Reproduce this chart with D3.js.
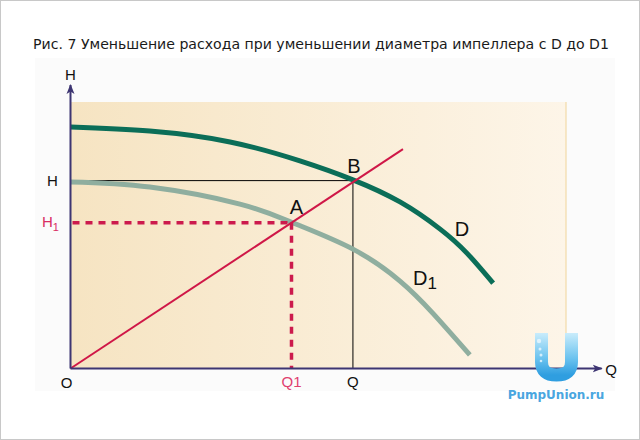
<!DOCTYPE html>
<html>
<head>
<meta charset="utf-8">
<script src="https://cdn.jsdelivr.net/npm/d3@7"></script>
<style>
  html, body { margin: 0; padding: 0; background: #fff; }
  svg { display: block; }
</style>
</head>
<body>
<div id="chart"></div>
<script>
// pump curve for impeller diameter D
var qD  = [0, 16, 32.2, 46.3, 57, 66.5, 74.6, 80, 85.3];
var hD  = [90.6, 89.1, 85.0, 77.9, 70.8, 62.5, 52.3, 43.3, 32.0];
// pump curve for reduced diameter D1
var qD1 = [0, 16, 34.2, 44.7, 57, 66.5, 73.1, 80.6];
var hD1 = [70.0, 68.1, 61.7, 54.8, 44.8, 32.8, 20.8, 5.1];
// system curve
var qSys = [0, 67.1];
var hSys = [0, 82.3];
// operating points
var pointNames = ['A', 'B'];
var pointQ = [44.6, 57];
var pointH = [54.7, 70.5];

var W = 640, H = 440;
var svg = d3.select('#chart').append('svg').attr('width', W).attr('height', H);

var x = d3.scaleLinear().domain([0, 100]).range([70.5, 566]),
    y = d3.scaleLinear().domain([0, 100]).range([368.5, 102]);

var defs = svg.append('defs');
var bg = defs.append('linearGradient').attr('id', 'bg').attr('x1', 0).attr('x2', 1).attr('y1', 0).attr('y2', 0);
bg.append('stop').attr('offset', 0).attr('stop-color', '#f6e4c2');
bg.append('stop').attr('offset', 1).attr('stop-color', '#fdf5e8');
var ug = defs.append('linearGradient').attr('id', 'ug').attr('x1', 0).attr('x2', 0).attr('y1', 0).attr('y2', 1);
ug.append('stop').attr('offset', 0).attr('stop-color', '#c9ecfb');
ug.append('stop').attr('offset', 0.6).attr('stop-color', '#6cc3ef');
ug.append('stop').attr('offset', 1).attr('stop-color', '#2f9ee0');
['arrowY', 'arrowX'].forEach(function(id){
  defs.append('marker').attr('id', id)
    .attr('viewBox', '0 0 10 10').attr('refX', 9).attr('refY', 5)
    .attr('markerWidth', 5).attr('markerHeight', 5).attr('orient', 'auto')
    .attr('markerUnits', 'strokeWidth')
    .append('path').attr('d', 'M0,1 L10,5 L0,9 L2.5,5 Z').attr('fill', '#3d3572');
});

// frame
svg.append('rect').attr('x', 0.5).attr('y', 0.5).attr('width', W - 1).attr('height', H - 1)
  .attr('fill', '#fff').attr('stroke', '#c8c8c8');
svg.append('rect').attr('x', 35).attr('y', 58).attr('width', 580).attr('height', 333)
  .attr('fill', '#fbfbfb');

svg.append('text').attr('x', 321).attr('y', 49).attr('text-anchor', 'middle')
  .attr('font-family', 'DejaVu Sans').attr('font-size', 14.1).attr('fill', '#1a1a1a')
  .text('Рис. 7 Уменьшение расхода при уменьшении диаметра импеллера с D до D1');

// plot background
svg.append('rect').attr('x', x(0)).attr('y', y(100)).attr('width', x(100) - x(0)).attr('height', y(0) - y(100))
  .attr('fill', 'url(#bg)');
svg.append('line').attr('x1', x(100)).attr('x2', x(100)).attr('y1', y(100)).attr('y2', y(0))
  .attr('stroke', '#f0d49a').attr('stroke-width', 1);

var line = d3.line().x(function(d){ return x(d[0]); }).y(function(d){ return y(d[1]); });
var curve = d3.line().x(function(d){ return x(d[0]); }).y(function(d){ return y(d[1]); })
  .curve(d3.curveNatural);

// guide lines for B
var qB = pointQ[1], hB = pointH[1], qA = pointQ[0], hA = pointH[0];
svg.append('path').attr('d', line([[0, hB], [qB, hB]])).attr('stroke', '#000').attr('stroke-width', 1).attr('fill', 'none');
svg.append('path').attr('d', line([[qB, hB], [qB, 0]])).attr('stroke', '#000').attr('stroke-width', 1).attr('fill', 'none');

// curves
svg.append('path').attr('d', curve(d3.zip(qD1, hD1))).attr('fill', 'none')
  .attr('stroke', '#8fae9f').attr('stroke-width', 5);
svg.append('path').attr('d', curve(d3.zip(qD, hD))).attr('fill', 'none')
  .attr('stroke', '#0b6e58').attr('stroke-width', 5);

// dashed guides for A
svg.append('path').attr('d', line([[0, hA], [qA, hA]])).attr('fill', 'none')
  .attr('stroke', '#cc1a4d').attr('stroke-width', 3.5).attr('stroke-dasharray', '7,6').attr('stroke-dashoffset', -2);
svg.append('path').attr('d', line([[qA, hA], [qA, 0]])).attr('fill', 'none')
  .attr('stroke', '#cc1a4d').attr('stroke-width', 3.5).attr('stroke-dasharray', '7,6');

// system line
svg.append('path').attr('d', line(d3.zip(qSys, hSys))).attr('fill', 'none')
  .attr('stroke', '#cf1747').attr('stroke-width', 2);

// axes
svg.append('line').attr('x1', x(0)).attr('y1', y(0)).attr('x2', x(0)).attr('y2', y(106.4))
  .attr('stroke', '#3d3572').attr('stroke-width', 2).attr('marker-end', 'url(#arrowY)');
svg.append('line').attr('x1', x(0)).attr('y1', y(0)).attr('x2', x(107.2)).attr('y2', y(0))
  .attr('stroke', '#3d3572').attr('stroke-width', 2).attr('marker-end', 'url(#arrowX)');

var lab = function(tx, px, py, size, color, anchor){
  return svg.append('text').attr('x', px).attr('y', py).attr('font-family', 'Liberation Sans, Arial, sans-serif')
    .attr('font-size', size).attr('fill', color || '#111').attr('text-anchor', anchor || 'middle').text(tx);
};
lab('H', x(0), 80, 15);
lab('O', x(0) - 4, 388, 15);
lab('Q', 611, 375, 15);
lab('H', 52.5, y(hB) + 5, 15);
var h1 = lab('H', 42, y(hA) + 4, 15, '#d92d63', 'start');
h1.append('tspan').attr('font-size', 11).attr('dy', 4).text('1');
lab('Q1', x(qA), 387, 15, '#e0406f');
lab('Q', x(qB), 387, 15);

// point labels
pointNames.forEach(function(n, i){
  lab(n, x(pointQ[i]) + (i ? 1 : 5), y(pointH[i]) - (i ? 8 : 9), 20);
});
lab('D', 462, 236, 20);
var d1 = lab('D', 413, 285, 20, '#111', 'start');
d1.append('tspan').attr('font-size', 17).attr('dy', 4).text('1');

// logo
var logo = svg.append('g');
logo.append('path').attr('d', 'M541.5,333 V362 Q541.5,375 556.5,375 Q571.5,375 571.5,362 V333')
  .attr('fill', 'none').attr('stroke', 'url(#ug)').attr('stroke-width', 13);
[[539, 341, 2.2], [540, 349, 1.5], [541, 355, 1.5], [541, 361, 1.3]].forEach(function(c){
  logo.append('circle').attr('cx', c[0]).attr('cy', c[1]).attr('r', c[2]).attr('fill', '#eaf8ff').attr('opacity', 0.8);
});
logo.append('text').attr('x', 556).attr('y', 399).attr('text-anchor', 'middle')
  .attr('font-family', 'DejaVu Sans, sans-serif').attr('font-weight', 'bold').attr('font-size', 12)
  .attr('fill', '#4aa6e0').text('PumpUnion.ru');
</script>
</body>
</html>
